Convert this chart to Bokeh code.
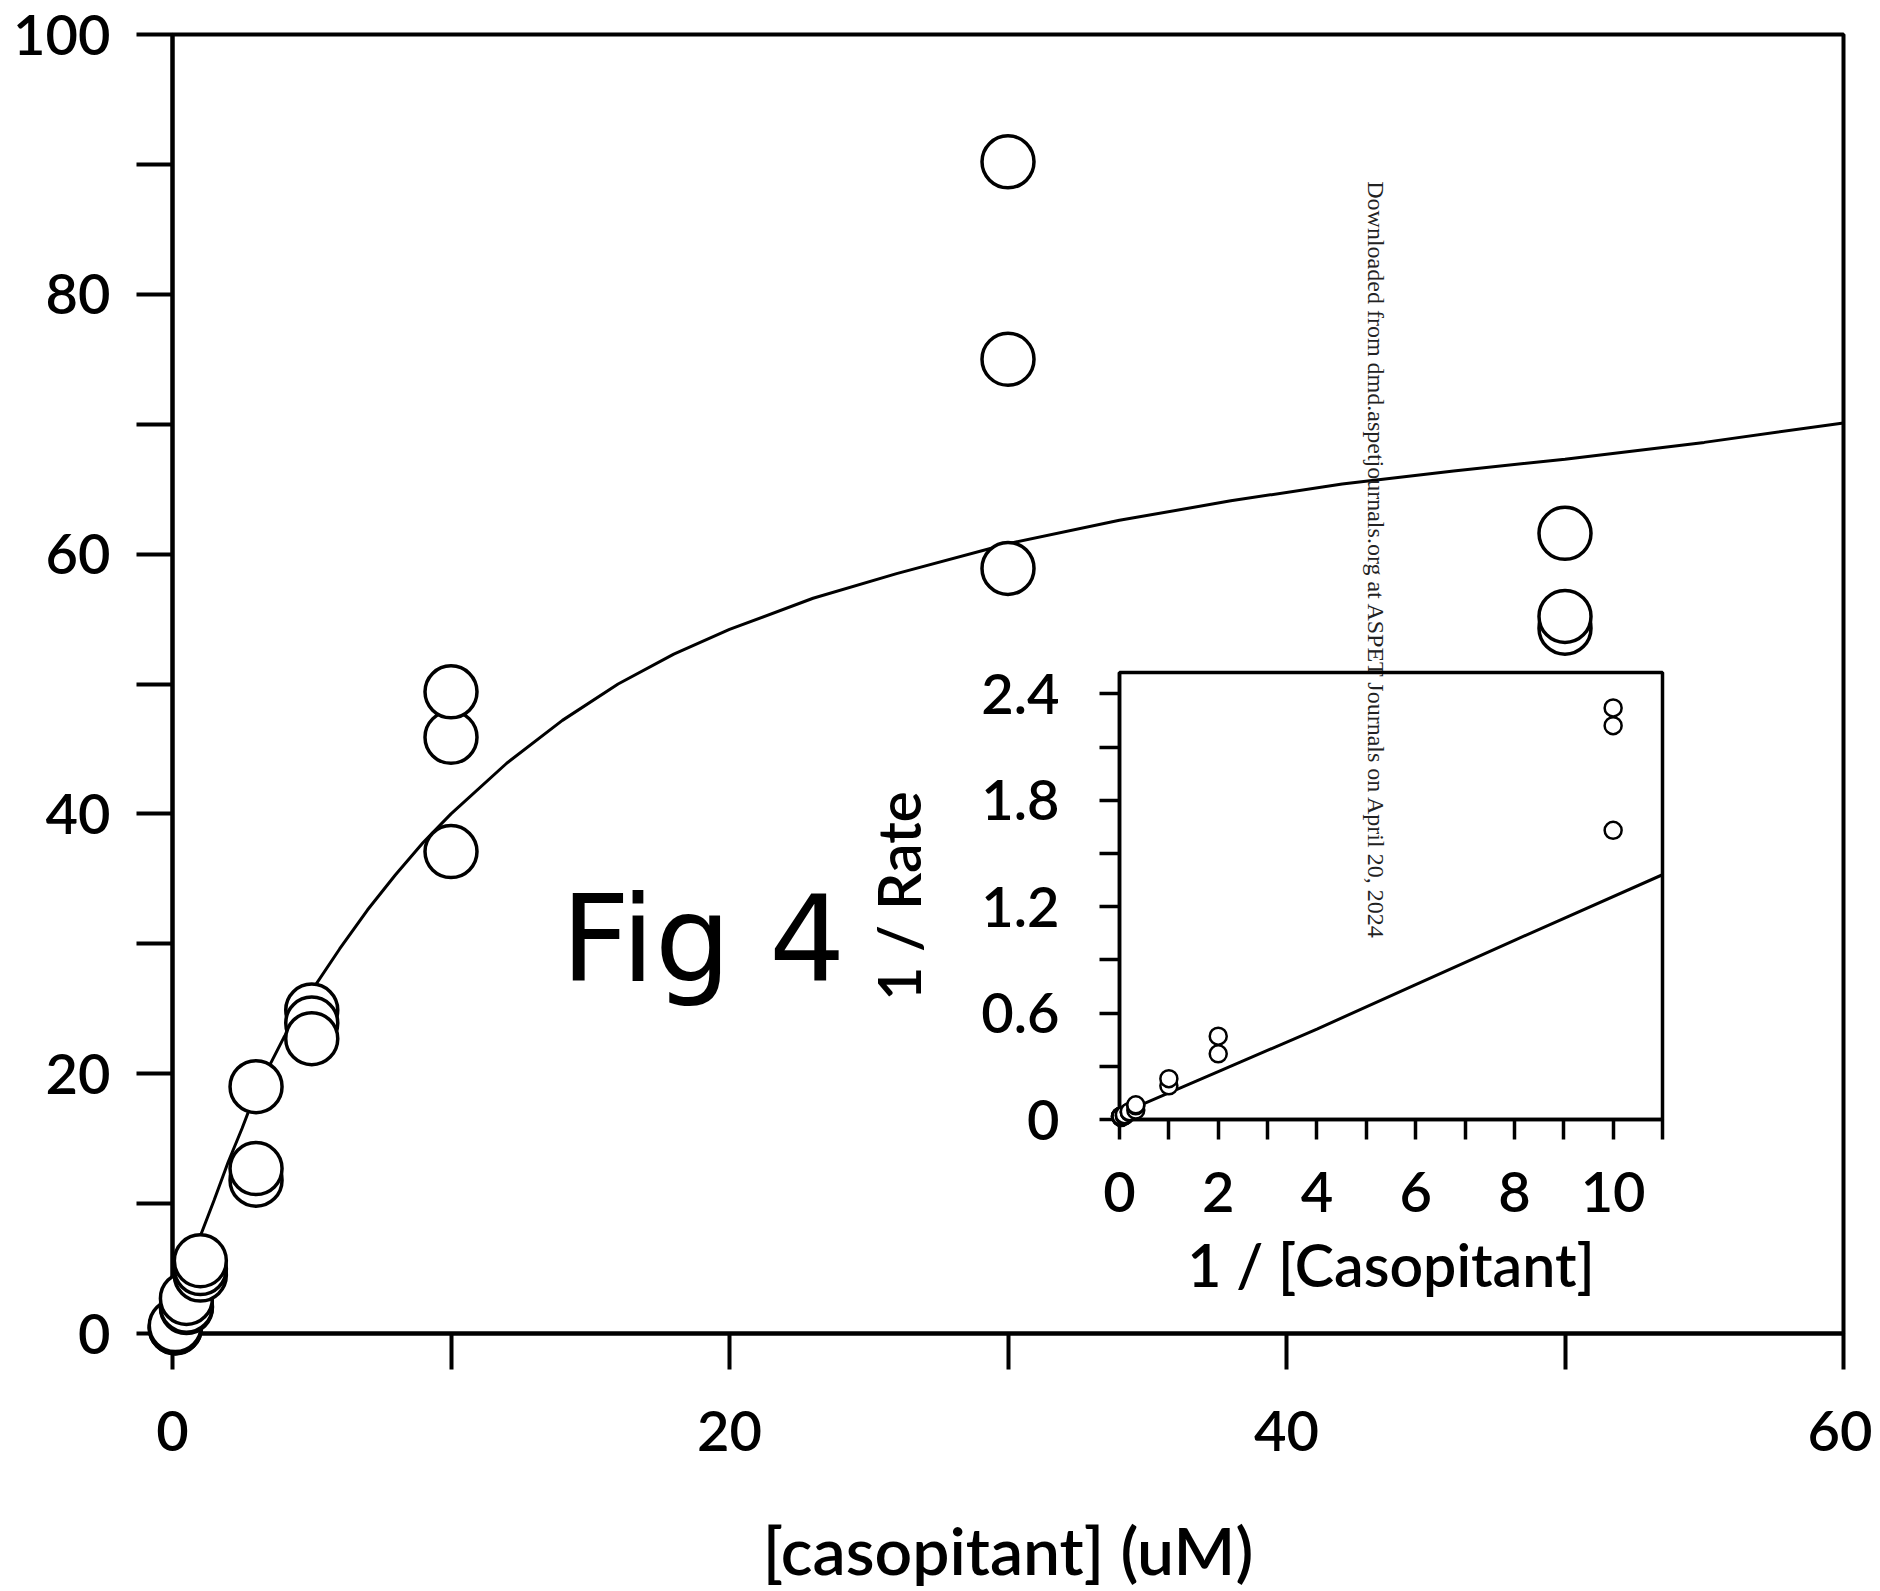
import math
from bokeh.plotting import figure
from bokeh.models import FixedTicker, Label
from bokeh.embed import file_html
from bokeh.resources import INLINE

# ---------------- data ----------------
# main plot: rate vs [casopitant] (uM)
CONC = [0.1, 0.1, 0.1, 0.5, 0.5, 0.5, 1, 1, 1, 3, 3, 3,
        5, 5, 5, 10, 10, 10, 30, 30, 30, 50, 50, 50]
RATE = [0.43, 0.45, 0.61, 2.0, 2.1, 2.7, 4.5, 5.0, 5.6, 11.8, 12.7, 19.0,
        24.9, 23.9, 22.7, 37.1, 45.9, 49.4, 58.9, 75.0, 90.2, 54.3, 55.2, 61.6]
# fitted curve
CURVE_X = [0, 0.5, 1, 1.5, 2, 2.5, 3, 4, 5, 6, 7, 8, 9, 10, 12, 14, 16, 18,
           20, 23, 26, 30, 34, 38, 42, 46, 50, 55, 60]
CURVE_Y = [0, 3.7, 7.5, 10.3, 13.2, 15.8, 18.6, 22.8, 26.4, 29.6, 32.6, 35.3,
           37.8, 40.0, 43.9, 47.2, 50.0, 52.3, 54.2, 56.6, 58.5, 60.8, 62.6,
           64.1, 65.4, 66.4, 67.3, 68.6, 70.1]
X_TICKS = [0, 20, 40, 60]
X_MINOR = [10, 30, 50]
Y_TICKS = [0, 20, 40, 60, 80, 100]
Y_MINOR = [10, 30, 50, 70, 90]
X_TITLE = "[casopitant] (uM)"

# inset: double reciprocal plot
INV_CONC = [0.02, 0.02, 0.02, 0.033, 0.033, 0.033, 0.1, 0.1, 0.1, 0.2, 0.2, 0.2,
            0.33, 0.33, 0.33, 1, 1, 2, 2, 10, 10, 10]
INV_RATE = [0.016, 0.018, 0.018, 0.011, 0.013, 0.017, 0.020, 0.022, 0.027,
            0.040, 0.042, 0.044, 0.053, 0.077, 0.083, 0.19, 0.23, 0.37, 0.47,
            1.63, 2.22, 2.32]
INSET_LX = [0, 2, 4, 6, 8, 11]
INSET_LY = [0.03, 0.27, 0.51, 0.76, 1.01, 1.38]
IX_TICKS = [0, 2, 4, 6, 8, 10]
IX_MINOR = [1, 3, 5, 7, 9, 11]
IY_TICKS = [0, 0.6, 1.2, 1.8, 2.4]
IY_MINOR = [0.3, 0.9, 1.5, 2.1]

FONT = "Lato Semibold, Lato"

# ---------------- main figure ----------------
p = figure(width=1864, height=1591, x_range=(0, 60), y_range=(0, 100),
           output_backend="svg", toolbar_location=None,
           min_border_left=164, min_border_right=29, min_border_top=34,
           min_border_bottom=257)
p.styles = {"position": "absolute", "left": "8px", "top": "0px"}
p.grid.visible = False
p.outline_line_color = "black"
p.outline_line_width = 4
p.background_fill_color = "white"
p.border_fill_color = "white"

for ax, maj, mnr in ((p.xaxis[0], X_TICKS, X_MINOR), (p.yaxis[0], Y_TICKS, Y_MINOR)):
    ax.ticker = FixedTicker(ticks=maj, minor_ticks=mnr)
    ax.axis_line_width = 4
    ax.axis_line_color = "black"
    ax.major_tick_in = 0
    ax.major_tick_out = 36
    ax.minor_tick_in = 0
    ax.minor_tick_out = 36
    ax.major_tick_line_width = 4
    ax.minor_tick_line_width = 4
    ax.major_tick_line_color = "black"
    ax.minor_tick_line_color = "black"
    ax.major_label_text_font = FONT
    ax.major_label_text_font_size = "56px"
    ax.major_label_text_color = "black"

p.xaxis[0].major_label_standoff = 41
p.yaxis[0].major_label_standoff = 26
p.xaxis[0].axis_label = X_TITLE
p.xaxis[0].axis_label_text_font = FONT
p.xaxis[0].axis_label_text_font_size = "66px"
p.xaxis[0].axis_label_text_font_style = "normal"
p.xaxis[0].axis_label_text_color = "black"
p.xaxis[0].axis_label_standoff = 56

p.line(CURVE_X, CURVE_Y, line_color="black", line_width=3)
p.scatter(CONC, RATE, marker="circle", size=52, fill_color="white",
          line_color="black", line_width=3.5, level="overlay")

p.add_layout(Label(x=13.95, y=30.3, text="Fig 4", text_font="DejaVu Sans",
                   text_font_size="120px", text_color="black",
                   text_align="left", text_baseline="alphabetic"))
p.add_layout(Label(x=43.2, y=88.7,
                   text="Downloaded from dmd.aspetjournals.org at ASPET Journals on April 20, 2024",
                   text_font="Liberation Serif", text_font_size="24px",
                   text_color="#222222", angle=-math.pi / 2,
                   text_align="left", text_baseline="middle"))

# ---------------- inset figure ----------------
q = figure(width=822, height=659, x_range=(0, 11), y_range=(0, 2.52),
           output_backend="svg", toolbar_location=None,
           min_border_left=258, min_border_right=20, min_border_top=22,
           min_border_bottom=190)
q.grid.visible = False
q.outline_line_color = "black"
q.outline_line_width = 3.5
q.background_fill_alpha = 0
q.border_fill_alpha = 0

for ax, maj, mnr in ((q.xaxis[0], IX_TICKS, IX_MINOR), (q.yaxis[0], IY_TICKS, IY_MINOR)):
    ax.ticker = FixedTicker(ticks=maj, minor_ticks=mnr)
    ax.axis_line_width = 3.5
    ax.axis_line_color = "black"
    ax.major_tick_in = 0
    ax.major_tick_out = 20
    ax.minor_tick_in = 0
    ax.minor_tick_out = 20
    ax.major_tick_line_width = 3.5
    ax.minor_tick_line_width = 3.5
    ax.major_tick_line_color = "black"
    ax.minor_tick_line_color = "black"
    ax.major_label_text_font = FONT
    ax.major_label_text_font_size = "56px"
    ax.major_label_text_color = "black"
    ax.axis_label_text_font = FONT
    ax.axis_label_text_font_size = "59px"
    ax.axis_label_text_font_style = "normal"
    ax.axis_label_text_color = "black"

q.yaxis[0].major_label_overrides = {0: "0"}
q.xaxis[0].major_label_standoff = 32
q.yaxis[0].major_label_standoff = 40
q.xaxis[0].axis_label = "1 / [Casopitant]"
q.yaxis[0].axis_label = "1 / Rate"
q.xaxis[0].axis_label_standoff = 14
q.yaxis[0].axis_label_standoff = 44

q.line(INSET_LX, INSET_LY, line_color="black", line_width=3)
q.scatter(INV_CONC, INV_RATE, marker="circle", size=17, fill_color="white",
          line_color="black", line_width=2.5, level="overlay")

q.styles = {"position": "absolute", "left": "860px", "top": "650px", "z-index": "5"}

open("out.html", "w").write(file_html([p, q], INLINE))
